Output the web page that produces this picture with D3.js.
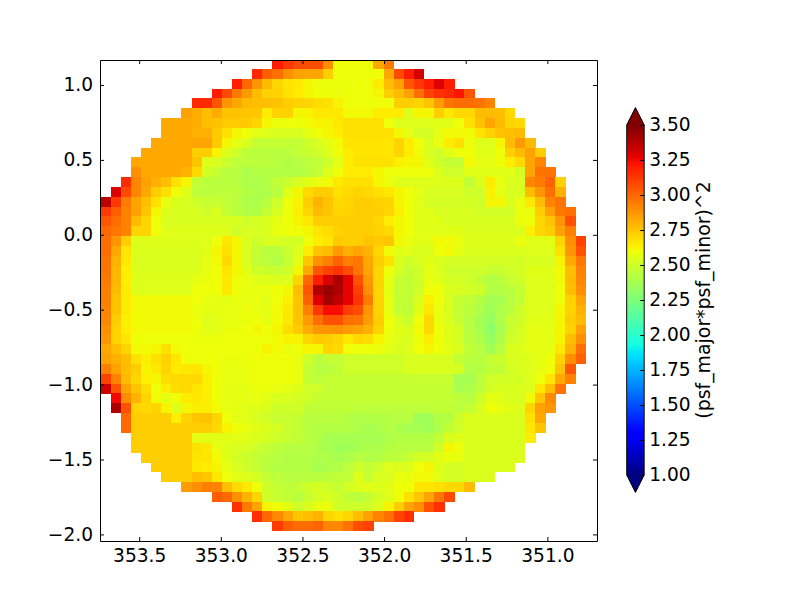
<!DOCTYPE html>
<html><head><meta charset="utf-8">
<script src="https://d3js.org/d3.v7.min.js"></script>
<style>
html,body{margin:0;padding:0;background:#fff}
svg{display:block}
text{font-family:"DejaVu Sans",sans-serif;fill:#000}
</style></head><body>
<div id="chart"></div>
<script>
const xTicks=[353.5,353.0,352.5,352.0,351.5,351.0];
const yTicks=[1.0,0.5,0.0,-0.5,-1.0,-1.5,-2.0];
const barTicks=[1.00,1.25,1.50,1.75,2.00,2.25,2.50,2.75,3.00,3.25,3.50];
const barLabel="(psf_major*psf_minor)^2";
const firstColumn=[17,15,13,11,9,8,6,6,5,4,3,3,2,1,0,0,0,0,0,0,0,0,0,0,0,0,0,0,0,0,0,0,0,0,1,1,2,2,3,3,4,5,6,8,11,13,15,17];
const row00=[3.2,3.13,3.08,3.07,3.07,2.9,2.6,2.6,2.6,2.6,2.83,2.95];
const row01=[3.17,3.03,2.98,2.9,2.85,2.84,2.84,2.73,2.6,2.6,2.6,2.6,2.6,2.83,3.08,3.2,3.32];
const row02=[3.2,3.0,2.88,2.78,2.71,2.67,2.66,2.62,2.59,2.59,2.59,2.59,2.6,2.6,2.65,2.78,2.85,3.05,3.13,3.2,3.3,3.2];
const row03=[3.2,3.08,2.95,2.87,2.78,2.72,2.72,2.68,2.65,2.62,2.6,2.6,2.59,2.6,2.6,2.6,2.62,2.73,2.78,2.85,2.98,3.1,3.15,3.17,3.22,3.05];
const row04=[3.17,3.17,3.05,2.88,2.83,2.78,2.77,2.77,2.76,2.73,2.72,2.71,2.69,2.68,2.63,2.6,2.6,2.6,2.6,2.6,2.73,2.73,2.71,2.76,2.86,2.97,2.99,2.99,2.97,2.93];
const row05=[2.85,2.82,2.77,2.82,2.76,2.76,2.75,2.75,2.65,2.72,2.72,2.62,2.63,2.66,2.66,2.66,2.61,2.61,2.61,2.65,2.65,2.65,2.55,2.62,2.62,2.73,2.66,2.7,2.7,2.78,2.78,2.77,2.7];
const row06=[2.83,2.83,2.83,2.82,2.77,2.76,2.74,2.74,2.74,2.71,2.62,2.59,2.6,2.6,2.61,2.63,2.63,2.66,2.68,2.68,2.68,2.68,2.6,2.55,2.55,2.55,2.55,2.56,2.56,2.6,2.68,2.76,2.84,2.78,2.71,2.7];
const row07=[2.83,2.83,2.83,2.81,2.81,2.74,2.68,2.62,2.6,2.56,2.55,2.54,2.53,2.53,2.57,2.6,2.62,2.65,2.68,2.68,2.68,2.68,2.68,2.62,2.57,2.52,2.52,2.57,2.61,2.61,2.61,2.67,2.72,2.76,2.77,2.78];
const row08=[2.83,2.83,2.83,2.83,2.84,2.84,2.74,2.62,2.57,2.53,2.47,2.47,2.47,2.47,2.47,2.5,2.53,2.57,2.61,2.67,2.67,2.67,2.67,2.67,2.72,2.65,2.6,2.53,2.58,2.65,2.68,2.59,2.55,2.55,2.62,2.78,2.87,2.78];
const row09=[2.83,2.83,2.83,2.83,2.83,2.73,2.73,2.63,2.55,2.5,2.45,2.44,2.44,2.44,2.44,2.47,2.48,2.5,2.55,2.6,2.65,2.67,2.67,2.67,2.67,2.71,2.65,2.61,2.53,2.5,2.56,2.6,2.6,2.56,2.56,2.6,2.73,2.78,2.85,2.73];
const row10=[2.83,2.83,2.83,2.83,2.83,2.83,2.75,2.55,2.53,2.49,2.45,2.45,2.45,2.45,2.43,2.42,2.43,2.45,2.46,2.5,2.57,2.65,2.68,2.68,2.68,2.68,2.64,2.62,2.62,2.56,2.5,2.47,2.47,2.61,2.57,2.57,2.6,2.65,2.7,2.84,2.92];
const row11=[2.89,2.83,2.83,2.83,2.83,2.8,2.7,2.52,2.47,2.44,2.44,2.4,2.42,2.42,2.42,2.42,2.42,2.44,2.47,2.55,2.6,2.65,2.65,2.65,2.62,2.6,2.6,2.6,2.6,2.6,2.54,2.5,2.5,2.56,2.56,2.56,2.56,2.56,2.52,2.84,2.97,2.97];
const row12=[3.16,2.92,2.85,2.81,2.77,2.68,2.62,2.47,2.44,2.44,2.44,2.43,2.4,2.4,2.42,2.46,2.49,2.53,2.56,2.59,2.61,2.66,2.68,2.68,2.68,2.62,2.59,2.55,2.55,2.55,2.55,2.55,2.55,2.55,2.46,2.55,2.65,2.58,2.53,2.53,2.92,2.95,3.02,2.72];
const row13=[3.3,3.08,2.92,2.83,2.73,2.68,2.6,2.55,2.45,2.45,2.45,2.45,2.45,2.42,2.4,2.4,2.44,2.56,2.62,2.7,2.73,2.73,2.68,2.7,2.71,2.7,2.68,2.66,2.62,2.6,2.57,2.53,2.53,2.53,2.53,2.5,2.5,2.64,2.57,2.53,2.53,2.78,2.88,2.98,2.81];
const row14=[3.37,3.13,2.95,2.84,2.77,2.68,2.58,2.54,2.53,2.5,2.48,2.48,2.46,2.44,2.4,2.4,2.44,2.5,2.6,2.63,2.73,2.8,2.76,2.7,2.71,2.73,2.73,2.72,2.71,2.63,2.6,2.56,2.52,2.52,2.52,2.52,2.52,2.5,2.62,2.62,2.54,2.58,2.66,2.78,2.93,2.97];
const row15=[3.13,3.03,2.93,2.85,2.75,2.62,2.55,2.53,2.53,2.53,2.5,2.53,2.47,2.44,2.42,2.42,2.47,2.53,2.6,2.64,2.71,2.78,2.75,2.71,2.72,2.73,2.73,2.73,2.71,2.64,2.6,2.56,2.56,2.53,2.53,2.53,2.53,2.51,2.51,2.51,2.51,2.59,2.59,2.73,2.85,2.96,2.98];
const row16=[3.05,2.99,2.93,2.78,2.71,2.6,2.53,2.53,2.53,2.53,2.53,2.53,2.53,2.53,2.5,2.52,2.54,2.57,2.6,2.63,2.66,2.73,2.73,2.73,2.73,2.73,2.73,2.71,2.65,2.62,2.6,2.56,2.56,2.56,2.53,2.53,2.53,2.53,2.53,2.53,2.53,2.59,2.6,2.71,2.76,2.88,3.06];
const row17=[3.0,2.96,2.93,2.71,2.71,2.6,2.55,2.55,2.55,2.55,2.55,2.55,2.55,2.5,2.53,2.53,2.53,2.58,2.6,2.6,2.62,2.67,2.69,2.72,2.73,2.73,2.73,2.72,2.7,2.62,2.6,2.56,2.56,2.56,2.56,2.56,2.54,2.54,2.54,2.54,2.54,2.54,2.64,2.71,2.73,2.85,2.94];
const row18=[2.99,2.88,2.73,2.55,2.55,2.55,2.55,2.55,2.55,2.55,2.55,2.6,2.66,2.62,2.54,2.5,2.53,2.53,2.52,2.52,2.6,2.65,2.67,2.74,2.73,2.73,2.76,2.74,2.75,2.62,2.58,2.56,2.56,2.61,2.61,2.58,2.55,2.55,2.55,2.55,2.55,2.59,2.56,2.56,2.56,2.71,2.9,3.1];
const row19=[2.99,2.83,2.67,2.54,2.54,2.54,2.54,2.54,2.54,2.54,2.56,2.62,2.68,2.62,2.54,2.47,2.44,2.44,2.49,2.55,2.65,2.76,2.78,2.87,2.81,2.84,2.8,2.71,2.61,2.56,2.56,2.54,2.54,2.6,2.61,2.57,2.54,2.54,2.54,2.54,2.54,2.54,2.55,2.55,2.55,2.68,2.88,3.06];
const row20=[2.97,2.8,2.66,2.54,2.54,2.54,2.54,2.54,2.54,2.54,2.57,2.61,2.7,2.62,2.54,2.47,2.45,2.42,2.48,2.57,2.75,2.89,2.94,3.02,2.94,2.96,2.83,2.73,2.68,2.54,2.5,2.53,2.56,2.54,2.52,2.52,2.52,2.52,2.52,2.52,2.52,2.52,2.53,2.53,2.53,2.63,2.83,2.96];
const row21=[2.97,2.79,2.64,2.54,2.54,2.54,2.54,2.54,2.54,2.54,2.58,2.6,2.67,2.62,2.56,2.5,2.49,2.48,2.5,2.62,2.83,3.05,3.1,3.14,3.08,2.97,2.84,2.71,2.6,2.53,2.47,2.5,2.57,2.55,2.5,2.5,2.5,2.5,2.48,2.48,2.5,2.52,2.56,2.56,2.56,2.61,2.77,2.93];
const row22=[2.95,2.79,2.64,2.55,2.55,2.55,2.55,2.55,2.55,2.57,2.59,2.6,2.66,2.6,2.58,2.55,2.55,2.54,2.55,2.71,3.0,3.2,3.31,3.41,3.28,3.06,2.87,2.71,2.58,2.48,2.46,2.5,2.58,2.56,2.52,2.52,2.5,2.46,2.42,2.43,2.48,2.5,2.55,2.55,2.55,2.61,2.78,2.92];
const row23=[2.94,2.78,2.65,2.55,2.55,2.55,2.55,2.55,2.55,2.6,2.6,2.6,2.66,2.6,2.58,2.58,2.58,2.6,2.62,2.77,3.05,3.39,3.44,3.4,3.28,3.11,2.9,2.71,2.57,2.47,2.46,2.5,2.6,2.6,2.54,2.53,2.52,2.5,2.42,2.42,2.44,2.47,2.55,2.55,2.55,2.6,2.77,2.9];
const row24=[2.94,2.76,2.65,2.61,2.61,2.61,2.61,2.61,2.61,2.6,2.58,2.57,2.57,2.58,2.58,2.58,2.56,2.6,2.64,2.76,3.02,3.3,3.42,3.36,3.28,3.14,2.95,2.72,2.58,2.47,2.46,2.54,2.64,2.6,2.54,2.47,2.46,2.42,2.37,2.38,2.43,2.47,2.55,2.55,2.55,2.6,2.72,2.84];
const row25=[2.93,2.76,2.65,2.61,2.61,2.61,2.61,2.61,2.61,2.59,2.57,2.57,2.58,2.58,2.59,2.58,2.57,2.61,2.66,2.76,2.94,3.13,3.24,3.24,3.11,3.07,2.88,2.72,2.58,2.47,2.46,2.56,2.66,2.58,2.54,2.47,2.44,2.4,2.36,2.4,2.44,2.5,2.55,2.55,2.55,2.62,2.72,2.8];
const row26=[2.92,2.73,2.64,2.61,2.61,2.61,2.61,2.61,2.61,2.6,2.55,2.56,2.58,2.58,2.59,2.6,2.57,2.61,2.66,2.76,2.87,2.98,3.06,3.06,2.98,2.97,2.86,2.73,2.6,2.53,2.49,2.6,2.7,2.58,2.54,2.48,2.43,2.37,2.34,2.4,2.48,2.5,2.56,2.56,2.56,2.62,2.73,2.78];
const row27=[2.9,2.72,2.65,2.61,2.61,2.61,2.61,2.61,2.61,2.6,2.56,2.56,2.59,2.59,2.6,2.62,2.6,2.62,2.69,2.74,2.82,2.88,2.88,2.89,2.87,2.85,2.81,2.72,2.6,2.56,2.54,2.61,2.7,2.6,2.55,2.52,2.43,2.38,2.3,2.38,2.48,2.52,2.57,2.57,2.57,2.62,2.72,2.85];
const row28=[2.88,2.72,2.67,2.6,2.6,2.6,2.6,2.6,2.6,2.59,2.59,2.59,2.6,2.6,2.6,2.6,2.6,2.61,2.63,2.63,2.71,2.74,2.73,2.71,2.66,2.7,2.69,2.63,2.58,2.55,2.54,2.6,2.65,2.6,2.56,2.52,2.44,2.4,2.34,2.4,2.5,2.53,2.57,2.57,2.57,2.63,2.77,2.9];
const row29=[2.83,2.77,2.71,2.61,2.61,2.62,2.68,2.61,2.6,2.6,2.6,2.6,2.6,2.6,2.6,2.6,2.63,2.61,2.58,2.6,2.62,2.62,2.71,2.7,2.6,2.6,2.6,2.59,2.57,2.54,2.55,2.6,2.62,2.6,2.56,2.54,2.46,2.43,2.37,2.43,2.53,2.55,2.57,2.57,2.57,2.66,2.8,2.98];
const row30=[2.85,2.81,2.77,2.68,2.64,2.68,2.72,2.66,2.6,2.6,2.6,2.6,2.59,2.59,2.59,2.6,2.6,2.6,2.6,2.58,2.5,2.44,2.47,2.47,2.5,2.5,2.5,2.5,2.5,2.5,2.53,2.53,2.53,2.53,2.53,2.47,2.44,2.43,2.47,2.49,2.53,2.54,2.55,2.57,2.6,2.72,2.9,3.02];
const row31=[2.94,2.85,2.77,2.73,2.63,2.66,2.71,2.65,2.66,2.67,2.62,2.6,2.58,2.58,2.58,2.6,2.6,2.6,2.6,2.58,2.47,2.43,2.43,2.46,2.5,2.5,2.5,2.5,2.5,2.5,2.54,2.54,2.54,2.54,2.54,2.52,2.42,2.42,2.46,2.46,2.52,2.54,2.55,2.58,2.6,2.76,3.05];
const row32=[3.1,2.93,2.78,2.71,2.64,2.62,2.69,2.7,2.7,2.7,2.64,2.6,2.58,2.58,2.58,2.6,2.6,2.6,2.6,2.58,2.47,2.45,2.47,2.47,2.47,2.47,2.47,2.47,2.47,2.47,2.47,2.48,2.48,2.48,2.48,2.38,2.38,2.45,2.5,2.52,2.52,2.52,2.55,2.6,2.67,2.83,2.93];
const row33=[3.33,3.06,2.84,2.75,2.69,2.6,2.65,2.69,2.7,2.67,2.64,2.6,2.57,2.57,2.57,2.59,2.59,2.58,2.57,2.55,2.5,2.5,2.47,2.47,2.47,2.47,2.47,2.47,2.47,2.47,2.47,2.47,2.47,2.47,2.47,2.38,2.4,2.45,2.52,2.53,2.53,2.54,2.55,2.66,2.77,2.97];
const row34=[3.25,2.9,2.8,2.71,2.61,2.57,2.6,2.65,2.66,2.64,2.6,2.57,2.57,2.57,2.58,2.56,2.54,2.53,2.52,2.5,2.47,2.47,2.47,2.47,2.47,2.47,2.47,2.47,2.47,2.47,2.47,2.47,2.47,2.47,2.45,2.43,2.5,2.57,2.56,2.53,2.53,2.61,2.75,2.91];
const row35=[3.4,3.06,2.72,2.7,2.71,2.63,2.55,2.62,2.64,2.64,2.61,2.58,2.57,2.56,2.55,2.54,2.5,2.5,2.5,2.46,2.46,2.46,2.46,2.46,2.45,2.45,2.45,2.45,2.45,2.45,2.45,2.45,2.46,2.46,2.45,2.47,2.53,2.6,2.58,2.56,2.55,2.71,2.85,2.88];
const row36=[3.0,2.73,2.73,2.73,2.73,2.64,2.72,2.75,2.76,2.71,2.6,2.56,2.56,2.53,2.5,2.48,2.48,2.47,2.44,2.44,2.44,2.44,2.42,2.4,2.42,2.42,2.42,2.43,2.43,2.36,2.36,2.42,2.42,2.5,2.54,2.54,2.54,2.54,2.54,2.54,2.68,2.83];
const row37=[3.0,2.73,2.73,2.73,2.73,2.73,2.73,2.73,2.73,2.7,2.63,2.6,2.58,2.56,2.54,2.52,2.48,2.47,2.44,2.42,2.42,2.42,2.42,2.4,2.38,2.4,2.42,2.4,2.38,2.38,2.36,2.4,2.46,2.5,2.54,2.54,2.54,2.54,2.54,2.54,2.67,2.75];
const row38=[2.73,2.73,2.73,2.73,2.73,2.73,2.57,2.56,2.56,2.56,2.56,2.56,2.54,2.52,2.5,2.48,2.46,2.44,2.42,2.38,2.38,2.38,2.38,2.38,2.38,2.4,2.42,2.42,2.42,2.42,2.46,2.54,2.55,2.54,2.54,2.54,2.54,2.54,2.54,2.65];
const row39=[2.73,2.73,2.73,2.73,2.73,2.73,2.68,2.66,2.58,2.55,2.53,2.53,2.5,2.47,2.45,2.43,2.43,2.43,2.4,2.38,2.36,2.36,2.38,2.4,2.4,2.42,2.43,2.43,2.43,2.43,2.5,2.62,2.6,2.54,2.54,2.54,2.54,2.54,2.54];
const row40=[2.73,2.73,2.73,2.73,2.73,2.67,2.67,2.61,2.56,2.52,2.49,2.47,2.45,2.43,2.42,2.42,2.42,2.4,2.4,2.38,2.4,2.43,2.42,2.42,2.45,2.45,2.47,2.52,2.52,2.56,2.59,2.58,2.54,2.54,2.54,2.54,2.54,2.54];
const row41=[2.73,2.73,2.73,2.73,2.66,2.65,2.63,2.58,2.53,2.5,2.47,2.44,2.42,2.42,2.42,2.42,2.38,2.4,2.42,2.45,2.5,2.47,2.5,2.55,2.54,2.55,2.6,2.62,2.56,2.52,2.52,2.54,2.54,2.54,2.54,2.54];
const row42=[2.73,2.73,2.73,2.77,2.75,2.66,2.6,2.56,2.55,2.52,2.47,2.45,2.43,2.43,2.44,2.44,2.45,2.46,2.46,2.55,2.48,2.53,2.53,2.58,2.58,2.61,2.61,2.56,2.52,2.52,2.54,2.54,2.54];
const row43=[2.86,2.9,2.94,2.93,2.77,2.7,2.66,2.6,2.5,2.47,2.45,2.47,2.5,2.52,2.5,2.47,2.52,2.55,2.56,2.55,2.56,2.6,2.6,2.67,2.67,2.68,2.7,2.7,2.78];
const row44=[3.03,3.0,2.89,2.8,2.71,2.5,2.48,2.46,2.44,2.48,2.52,2.54,2.5,2.46,2.44,2.47,2.52,2.55,2.6,2.68,2.75,2.84,2.96,3.08];
const row45=[3.15,2.95,2.84,2.63,2.6,2.56,2.5,2.54,2.59,2.59,2.5,2.5,2.5,2.5,2.55,2.63,2.73,2.84,2.9,3.06,3.15];
const row46=[3.15,3.0,2.91,2.83,2.75,2.77,2.8,2.71,2.68,2.71,2.77,2.85,2.93,2.98,3.1,3.15];
const row47=[3.12,3.03,2.99,2.99,3.01,2.92,2.92,2.97,3.07,3.1];
const rows=[row00,row01,row02,row03,row04,row05,row06,row07,row08,row09,row10,row11,row12,row13,row14,row15,row16,row17,row18,row19,row20,row21,row22,row23,row24,row25,row26,row27,row28,row29,row30,row31,row32,row33,row34,row35,row36,row37,row38,row39,row40,row41,row42,row43,row44,row45,row46,row47];

const raStart=353.736, raStep=-0.06189, decStart=1.1724, decStep=-0.06562;
const vMin=1, vMax=3.5;

const svg=d3.select("#chart").append("svg").attr("width",800).attr("height",600);
const x=d3.scaleLinear().domain([353.74,350.696]).range([100,597]);
const y=d3.scaleLinear().domain([1.1669,-2.0441]).range([60,541]);

const rJet=d3.scaleLinear().domain([0,.35,.66,.89,1]).range([0,0,1,1,.5]).clamp(true);
const gJet=d3.scaleLinear().domain([0,.125,.375,.64,.91,1]).range([0,0,1,1,0,0]).clamp(true);
const bJet=d3.scaleLinear().domain([0,.11,.34,.65,1]).range([.5,1,1,0,0]).clamp(true);
const toT=d3.scaleLinear().domain([vMin,vMax]).range([0,1]).clamp(true);
const jet=v=>{const t=toT(v);return d3.rgb(rJet(t)*255,gJet(t)*255,bJet(t)*255).formatRgb();};

svg.append("clipPath").attr("id","plot").append("rect").attr("x",100).attr("y",60).attr("width",497).attr("height",481);

const cells=rows.flatMap((row,r)=>row.map((v,i)=>({r,c:firstColumn[r]+i,v})));
svg.append("g").attr("clip-path","url(#plot)").attr("shape-rendering","crispEdges")
 .selectAll("rect").data(cells).join("rect")
 .attr("x",d=>x(raStart+raStep*d.c))
 .attr("y",d=>y(decStart+decStep*d.r))
 .attr("width",d=>x(raStart+raStep*(d.c+1))-x(raStart+raStep*d.c)+.4)
 .attr("height",d=>y(decStart+decStep*(d.r+1))-y(decStart+decStep*d.r)+.4)
 .attr("fill",d=>jet(d.v));

const fontPx="18.6px";
const fmt1=d=>d3.format(".1f")(d).replace("-","\u2212");
const style=g=>{g.selectAll("text").style("font-size",fontPx).style("font-family",'"DejaVu Sans",sans-serif');
 g.selectAll("line").attr("stroke","#000").attr("stroke-width",1);g.select(".domain").attr("stroke","#000").attr("stroke-width",1);};

svg.append("g").attr("transform","translate(0,541)").call(d3.axisBottom(x).tickValues(xTicks).tickFormat(d3.format(".1f")).tickSize(-4).tickSizeOuter(0).tickPadding(8)).call(style);
svg.append("g").attr("transform","translate(0,60)").call(d3.axisTop(x).tickValues(xTicks).tickFormat("").tickSize(-4).tickSizeOuter(0)).call(style);
svg.append("g").attr("transform","translate(100,0)").call(d3.axisLeft(y).tickValues(yTicks).tickFormat(fmt1).tickSize(-4).tickSizeOuter(0).tickPadding(7)).call(style);
svg.append("g").attr("transform","translate(597,0)").call(d3.axisRight(y).tickValues(yTicks).tickFormat("").tickSize(-4).tickSizeOuter(0)).call(style);

// colorbar
const bar=d3.scaleLinear().domain([vMin,vMax]).range([475,125]);
const levels=d3.range(256).map(i=>vMin+(vMax-vMin)*i/255);
const bw=17.5,bx=626.7;
const cb=svg.append("g");
cb.append("g").attr("shape-rendering","crispEdges").selectAll("rect").data(levels).join("rect")
 .attr("x",bx).attr("width",bw)
 .attr("y",d=>bar(d)-1).attr("height",2.2).attr("fill",d=>jet(d));
const tip=17.4;
cb.append("path").attr("d",`M${bx},${bar(vMax)}L${bx+bw/2},${bar(vMax)-tip}L${bx+bw},${bar(vMax)}Z`).attr("fill",jet(vMax));
cb.append("path").attr("d",`M${bx},${bar(vMin)}L${bx+bw/2},${bar(vMin)+tip}L${bx+bw},${bar(vMin)}Z`).attr("fill",jet(vMin));
cb.append("path").attr("d",`M${bx},${bar(vMax)}L${bx+bw/2},${bar(vMax)-tip}L${bx+bw},${bar(vMax)}L${bx+bw},${bar(vMin)}L${bx+bw/2},${bar(vMin)+tip}L${bx},${bar(vMin)}Z`)
 .attr("fill","none").attr("stroke","#000").attr("stroke-width",1);
const ba=svg.append("g").attr("transform",`translate(${bx+bw},0)`).call(d3.axisRight(bar).tickValues(barTicks).tickFormat(d3.format(".2f")).tickSize(-4).tickSizeOuter(0).tickPadding(5)).call(style);
ba.select(".domain").remove();
svg.append("text").attr("transform","translate(710,300) rotate(-90)").attr("text-anchor","middle").style("font-size","18.9px").text(barLabel);
</script>
</body></html>
